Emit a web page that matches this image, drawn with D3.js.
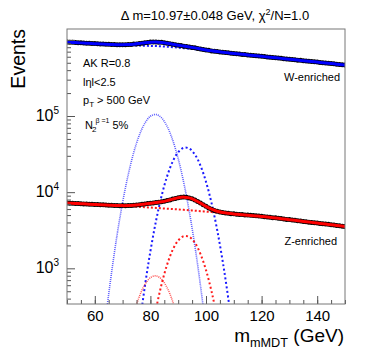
<!DOCTYPE html>
<html>
<head>
<meta charset="utf-8">
<script src="https://cdn.jsdelivr.net/npm/d3@7"></script>
<style>
  body { margin: 0; background: #fff; }
  text { font-family: "Liberation Sans", Arial, sans-serif; }
</style>
</head>
<body>
<div id="chart"></div>
<script>
// bin centres (1 GeV) and fit sample points (2 GeV)
const binX = d3.range(50, 151, 1);
const fitX = d3.range(50, 151, 2);

// W-enriched data, events per bin
const wData = [937e3, 930e3, 927e3, 924e3, 916e3, 913e3, 909e3, 902e3, 900e3, 893e3,
  892e3, 886e3, 882e3, 880e3, 874e3, 872e3, 869e3, 866e3, 864e3, 862e3,
  864e3, 862e3, 868e3, 870e3, 879e3, 885e3, 897e3, 905e3, 918e3, 924e3,
  934e3, 935e3, 939e3, 931e3, 927e3, 913e3, 903e3, 888e3, 874e3, 864e3,
  850e3, 841e3, 827e3, 818e3, 808e3, 793e3, 785e3, 770e3, 761e3, 746e3,
  737e3, 728e3, 716e3, 711e3, 702e3, 693e3, 688e3, 680e3, 675e3, 667e3,
  663e3, 656e3, 652e3, 644e3, 640e3, 633e3, 629e3, 623e3, 618e3, 612e3,
  607e3, 603e3, 596e3, 592e3, 587e3, 581e3, 576e3, 572e3, 566e3, 562e3,
  557e3, 551e3, 547e3, 541e3, 538e3, 532e3, 528e3, 523e3, 519e3, 514e3,
  510e3, 505e3, 502e3, 496e3, 492e3, 488e3, 484e3, 479e3, 476e3, 471e3, 467e3];

// Z-enriched data, events per bin
const zData = [7230, 7150, 7160, 7090, 7100, 7040, 7010, 6990, 6950, 6940,
  6880, 6900, 6840, 6830, 6800, 6740, 6730, 6700, 6690, 6640,
  6660, 6650, 6690, 6680, 6750, 6780, 6830, 6930, 6990, 7080,
  7160, 7200, 7310, 7370, 7480, 7600, 7760, 7910, 8120, 8260,
  8440, 8570, 8630, 8560, 8400, 8170, 7900, 7530, 7190, 6820,
  6510, 6200, 5980, 5760, 5630, 5500, 5420, 5330, 5290, 5210,
  5190, 5140, 5100, 5090, 5030, 5010, 4960, 4940, 4890, 4850,
  4830, 4770, 4730, 4700, 4630, 4600, 4540, 4500, 4450, 4390,
  4360, 4300, 4270, 4210, 4180, 4130, 4100, 4040, 4010, 3970,
  3940, 3880, 3850, 3810, 3780, 3730, 3700, 3660, 3630, 3580, 3550];

// total fits and backgrounds (2 GeV samples)
const wFit = [935000, 926000, 917000, 908000, 899000, 891000, 883000, 874200, 868900, 864700,
  863300, 866800, 878200, 896000, 917000, 932900, 937000, 925600, 902400, 875600,
  851000, 828600, 806900, 784200, 759900, 736800, 717700, 701400, 687300, 674600,
  662700, 651100, 639900, 628800, 617900, 607200, 596700, 586400, 576300, 566300,
  556500, 546900, 537400, 528100, 519000, 510000, 501200, 492500, 484000, 475600, 467400];
const wBkg = [935000, 926000, 917000, 908000, 899000, 891000, 883000, 874000, 868000, 862000,
  856000, 850000, 845000, 840000, 836000, 832000, 828000, 822000, 813000, 802000,
  790000, 777000, 764000, 751000, 737000, 723000, 710500, 698200, 686100, 674200,
  662600, 651100, 639900, 628800, 617900, 607200, 596700, 586400, 576300, 566300,
  556500, 546900, 537400, 528100, 519000, 510000, 501200, 492500, 484000, 475600, 467400];
const zFit = [7200, 7140, 7080, 7020, 6960, 6900, 6850, 6790, 6727, 6681,
  6656, 6668, 6732, 6844, 7001, 7150, 7294, 7472, 7742, 8107,
  8457, 8606, 8416, 7885, 7176, 6497, 5966, 5613, 5406, 5278,
  5180, 5105, 5030, 4955, 4880, 4800, 4715, 4627, 4534, 4442,
  4352, 4264, 4178, 4094, 4011, 3930, 3851, 3773, 3697, 3622, 3549];
const zBkg = [7200, 7140, 7080, 7020, 6960, 6900, 6850, 6790, 6720, 6660,
  6600, 6540, 6480, 6420, 6350, 6280, 6210, 6140, 6070, 6000,
  5930, 5860, 5790, 5710, 5630, 5550, 5470, 5390, 5320, 5250,
  5180, 5105, 5030, 4955, 4880, 4800, 4715, 4627, 4534, 4442,
  4352, 4264, 4178, 4094, 4011, 3930, 3851, 3773, 3697, 3622, 3549];

// signal components
const wSigWX = d3.range(64, 101, 2);
const wSigW = [238, 865, 2721, 7320, 16820, 33140, 55800, 80450, 99260, 104800,
  94730, 73290, 48510, 27490, 13330, 5530, 1966, 598, 156];
const zSigWX = d3.range(76, 111, 2);
const zSigW = [170, 577, 1675, 4160, 8850, 16120, 25120, 33500, 38230, 37350,
  31230, 22350, 13690, 7175, 3220, 1237, 406, 114];
const wSigZX = d3.range(72, 93, 2);
const wSigZ = [128, 252, 424, 611, 754, 796, 720, 557, 369, 209, 101];
const zSigZX = d3.range(78, 109, 2);
const zSigZ = [40, 116, 288, 612, 1115, 1738, 2318, 2645, 2584, 2160, 1546, 947, 496, 223, 86, 28];

const xMajor = [60, 80, 100, 120, 140];
const xMinor = d3.range(50, 151, 5);
const yMajor = [1e3, 1e4, 1e5, 1e6];
const yLabels = [1e3, 1e4, 1e5];

const W = 374, H = 359;
const L = 67, R = 345, T = 29, B = 304;
const yLo = 340, yHi = 1.388e6;

const svg = d3.select("#chart").append("svg")
  .attr("width", W).attr("height", H);

const x = d3.scaleLinear().domain([50, 150]).range([L, R]);
const y = d3.scaleLog().domain([yLo, yHi]).range([B, T]);

svg.append("defs").append("clipPath").attr("id", "clip")
  .append("rect").attr("x", L).attr("y", T).attr("width", R - L).attr("height", B - T);

const plot = svg.append("g").attr("clip-path", "url(#clip)");

const line = d3.line()
  .x(d => x(d[0]))
  .y(d => y(d[1]))
  .curve(d3.curveCatmullRom);

function drawCurve(xs, ys, color, width, dash) {
  plot.append("path")
    .datum(xs.map((v, i) => [v, ys[i]]))
    .attr("d", line)
    .attr("fill", "none")
    .attr("stroke", color)
    .attr("stroke-width", width)
    .attr("stroke-dasharray", dash);
}

// component curves
drawCurve(wSigWX, wSigW, "#5a5aff", 1.6, "1,1");
drawCurve(zSigWX, zSigW, "#1a1aff", 2, "2,2.5");
drawCurve(wSigZX, wSigZ, "#ff5050", 1.5, "1,1");
drawCurve(zSigZX, zSigZ, "#ff1a1a", 2, "2,2.5");
drawCurve(fitX, wBkg, "#1a1aff", 2, "2,2");
drawCurve(fitX, zBkg, "#ff1a1a", 2, "2,2");

// data points
[wData, zData].forEach(series => {
  plot.append("g").selectAll("circle")
    .data(series)
    .enter()
    .append("circle")
    .attr("cx", (d, i) => x(binX[i]))
    .attr("cy", d => y(d))
    .attr("r", 2.5)
    .attr("fill", "#000");
});

// fits on top
drawCurve(fitX, wFit, "#0000ff", 3, null);
drawCurve(fitX, zFit, "#ff0000", 3, null);

// axes
const axisColor = "#555";
const xAx = svg.append("g").attr("transform", `translate(0,${B})`)
  .call(d3.axisBottom(x).tickValues(xMajor).tickSize(-8).tickPadding(6).tickFormat(d3.format("d")));
svg.append("g").attr("transform", `translate(0,${B})`)
  .call(d3.axisBottom(x).tickValues(xMinor).tickSize(-4).tickFormat(""));

const yMinor = [];
[100, 1e3, 1e4, 1e5, 1e6].forEach(dec => {
  for (let k = 2; k <= 9; k++) yMinor.push(dec * k);
});
svg.append("g").attr("transform", `translate(${L},0)`)
  .call(d3.axisLeft(y).tickValues(yMinor.filter(v => v > yLo && v < yHi)).tickSize(-4).tickFormat(""));
const yAx = svg.append("g").attr("transform", `translate(${L},0)`)
  .call(d3.axisLeft(y).tickValues(yMajor).tickSize(-8).tickFormat(""));

yAx.selectAll(".tick").filter(d => yLabels.includes(d))
  .append("text")
  .attr("x", -8)
  .attr("y", 4)
  .attr("text-anchor", "end")
  .attr("fill", "#000")
  .attr("font-size", 16)
  .each(function(d) {
    const t = d3.select(this);
    t.append("tspan").text("10");
    t.append("tspan").attr("font-size", 10).attr("dy", -7).text(Math.round(Math.log10(d)));
  });

svg.selectAll(".domain").remove();
svg.selectAll(".tick line").attr("stroke", axisColor);
xAx.selectAll("text").attr("font-size", 15).attr("fill", "#000")
  .style("font-family", "'Liberation Sans', Arial, sans-serif");

// frame
svg.append("rect")
  .attr("x", L).attr("y", T).attr("width", R - L).attr("height", B - T)
  .attr("fill", "none").attr("stroke", "#777").attr("stroke-width", 1);

// title
const title = svg.append("text")
  .attr("x", 215).attr("y", 20)
  .attr("text-anchor", "middle")
  .attr("font-size", 13);
title.append("tspan").text("Δ m=10.97±0.048 GeV, χ");
title.append("tspan").attr("font-size", 9).attr("dy", -5).text("2");
title.append("tspan").attr("dy", 5).text("/N=1.0");

// axis titles
svg.append("text")
  .attr("transform", "translate(25,29) rotate(-90)")
  .attr("text-anchor", "end")
  .attr("font-size", 19.5)
  .text("Events");

const xt = svg.append("text")
  .attr("x", 344).attr("y", 342)
  .attr("text-anchor", "end")
  .attr("font-size", 19);
xt.append("tspan").text("m");
xt.append("tspan").attr("font-size", 12.7).attr("dy", 5).text("mMDT");
xt.append("tspan").attr("dy", -5).text(" (GeV)");

// annotations
const ann = svg.append("g").attr("font-size", 11);
ann.append("text").attr("x", 83).attr("y", 67).text("AK R=0.8");
ann.append("text").attr("x", 83).attr("y", 86).text("lηl<2.5");
const pt = ann.append("text").attr("x", 83).attr("y", 104);
pt.append("tspan").text("p");
pt.append("tspan").attr("font-size", 8).attr("dy", 3).text("T");
pt.append("tspan").attr("dy", -3).text(" > 500 GeV");
const n2 = ann.append("text").attr("x", 85).attr("y", 129);
n2.append("tspan").text("N");
n2.append("tspan").attr("font-size", 8).attr("dy", 3).attr("dx", -1).text("2");
n2.append("tspan").attr("font-size", 7).attr("dy", -9).attr("dx", -1).text("β =1");
n2.append("tspan").attr("dy", 6).text(" 5%");

ann.append("text").attr("x", 340).attr("y", 81).attr("text-anchor", "end").text("W-enriched");
ann.append("text").attr("x", 337).attr("y", 245).attr("text-anchor", "end").text("Z-enriched");
</script>
</body>
</html>
